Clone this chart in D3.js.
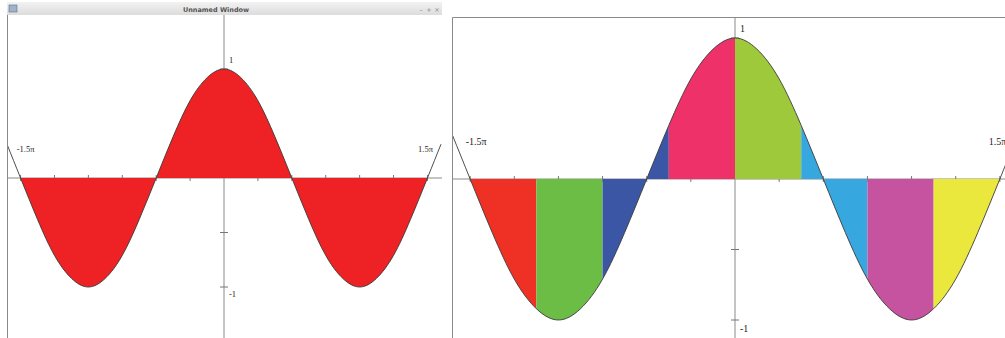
<!DOCTYPE html>
<html>
<head>
<meta charset="utf-8">
<script src="https://cdn.jsdelivr.net/npm/d3@7"></script>
<style>
  html, body { margin: 0; padding: 0; background: #fff; overflow: hidden; }
  svg { display: block; }
</style>
</head>
<body>
<div id="chart"></div>
<script>
// x positions in units of pi, cos values
const xPi = [-1.6, -1.5, -1.375, -1.25, -1.125, -1, -0.875, -0.75, -0.625, -0.5, -0.375, -0.25, -0.125,
             0, 0.125, 0.25, 0.375, 0.5, 0.625, 0.75, 0.875, 1, 1.125, 1.25, 1.375, 1.5, 1.6];
const yVals = [0.31, 0, -0.38, -0.71, -0.92, -1, -0.92, -0.71, -0.38, 0, 0.38, 0.71, 0.92,
               1, 0.92, 0.71, 0.38, 0, -0.38, -0.71, -0.92, -1, -0.92, -0.71, -0.38, 0, 0.31];

// colour bands of the right plot (edges in units of pi)
const bandEdges = [-1.5, -1.125, -0.75, -0.375, 0, 0.375, 0.75, 1.125, 1.5];
const bandColors = ["#ee3124", "#6cbd45", "#3a56a5", "#ee3169", "#9dc93b", "#37a8df", "#c653a0", "#ebe83d"];
const singleColor = "#ee2225";

const xTicksPi = [-1.5, -1.25, -1, -0.75, -0.5, -0.25, 0.25, 0.5, 0.75, 1, 1.25, 1.5];
const yTicks = [-1, -0.5, 0.5, 1];
const xLabels = [{ v: -1.5, t: "-1.5\u03c0" }, { v: 1.5, t: "1.5\u03c0" }];
const yLabels = [{ v: 1, t: "1" }, { v: -1, t: "-1" }];

const points = xPi.map((p, i) => ({ x: p * Math.PI, y: yVals[i] }));

const W = 1005, H = 338;
const svg = d3.select("#chart").append("svg").attr("width", W).attr("height", H);

function drawPlot(cfg) {
    const x = d3.scaleLinear().domain([-1.6 * Math.PI, 1.6 * Math.PI]).range([cfg.left, cfg.right]);
    const y = d3.scaleLinear().domain([-1, 1]).range([cfg.y0 + cfg.unit, cfg.y0 - cfg.unit]);

    const clipId = "clip-" + cfg.id;
    svg.append("clipPath").attr("id", clipId)
        .append("rect")
        .attr("x", cfg.clip[0]).attr("y", cfg.clip[1])
        .attr("width", cfg.clip[2] - cfg.clip[0]).attr("height", cfg.clip[3] - cfg.clip[1]);

    const g = svg.append("g").attr("clip-path", `url(#${clipId})`);

    // axes
    g.append("line")
        .attr("x1", cfg.clip[0]).attr("x2", cfg.clip[2])
        .attr("y1", y(0)).attr("y2", y(0))
        .attr("stroke", "#8a8a8a").attr("stroke-width", 1);
    g.append("line")
        .attr("x1", x(0)).attr("x2", x(0))
        .attr("y1", cfg.clip[1]).attr("y2", cfg.clip[3])
        .attr("stroke", "#8a8a8a").attr("stroke-width", 1);

    g.selectAll(".xtick").data(xTicksPi).enter().append("line")
        .attr("x1", d => x(d * Math.PI)).attr("x2", d => x(d * Math.PI))
        .attr("y1", y(0) - 3).attr("y2", y(0) + 3)
        .attr("stroke", "#777");
    g.selectAll(".ytick").data(yTicks).enter().append("line")
        .attr("x1", x(0) - 4).attr("x2", x(0) + 4)
        .attr("y1", d => y(d)).attr("y2", d => y(d))
        .attr("stroke", "#777");

    const area = d3.area()
        .x(d => x(d.x))
        .y0(y(0))
        .y1(d => y(d.y))
        .curve(d3.curveNatural);

    // filled bands, each clipped to its slice of x
    cfg.colors.forEach((c, i) => {
        const a = cfg.edges[i], b = cfg.edges[i + 1];
        const bid = `band-${cfg.id}-${i}`;
        svg.append("clipPath").attr("id", bid)
            .append("rect")
            .attr("x", x(a * Math.PI)).attr("y", 0)
            .attr("width", x(b * Math.PI) - x(a * Math.PI)).attr("height", H);
        g.append("g").attr("clip-path", `url(#${bid})`)
            .append("path")
            .datum(points)
            .attr("d", area)
            .attr("fill", c);
    });

    const line = d3.line()
        .x(d => x(d.x))
        .y(d => y(d.y))
        .curve(d3.curveNatural);

    g.append("path")
        .datum(points)
        .attr("d", line)
        .attr("fill", "none")
        .attr("stroke", "#3a3a3a")
        .attr("stroke-width", 0.9);

    // labels
    g.selectAll(".xlab").data(xLabels).enter().append("text")
        .attr("x", d => x(d.v * Math.PI) + (d.v < 0 ? -cfg.fs * 0.45 : -cfg.fs * 1.1))
        .attr("y", y(0) - cfg.unit * 0.24)
        .attr("font-family", "'Liberation Serif', 'DejaVu Serif', serif")
        .attr("font-size", cfg.fs)
        .attr("fill", "#222")
        .text(d => d.t);
    g.selectAll(".ylab").data(yLabels).enter().append("text")
        .attr("x", x(0) + 5)
        .attr("y", d => d.v > 0 ? y(d.v) - cfg.fs * 0.65 : y(d.v) + cfg.fs * 1.2)
        .attr("font-family", "'Liberation Serif', 'DejaVu Serif', serif")
        .attr("font-size", cfg.fs)
        .attr("fill", "#222")
        .text(d => d.t);
}

// left window frame
const win = svg.append("g");
const grad = svg.append("defs").append("linearGradient")
    .attr("id", "titleGrad").attr("x1", 0).attr("x2", 0).attr("y1", 0).attr("y2", 1);
grad.append("stop").attr("offset", 0).attr("stop-color", "#f2f2f2");
grad.append("stop").attr("offset", 1).attr("stop-color", "#dcdcdc");
win.append("rect").attr("x", 7).attr("y", 2).attr("width", 435).attr("height", 13).attr("fill", "url(#titleGrad)");
win.append("rect").attr("x", 9).attr("y", 5).attr("width", 8).attr("height", 7)
    .attr("fill", "#9fb3c8").attr("stroke", "#5a6f86").attr("stroke-width", 0.6);
win.append("text").attr("x", 216).attr("y", 12).attr("text-anchor", "middle")
    .attr("font-family", "'DejaVu Sans', sans-serif").attr("font-size", 6.5).attr("font-weight", "bold")
    .attr("fill", "#555").text("Unnamed Window");
win.selectAll(".btn").data(["\u2013", "+", "\u00d7"]).enter().append("text")
    .attr("x", (d, i) => 421 + i * 8).attr("y", 12).attr("text-anchor", "middle")
    .attr("font-family", "'DejaVu Sans', sans-serif").attr("font-size", 6.5)
    .attr("fill", "#888").text(d => d);
win.append("line").attr("x1", 7.5).attr("x2", 7.5).attr("y1", 15).attr("y2", H)
    .attr("stroke", "#8a8a8a");

drawPlot({
    id: "left", left: 7, right: 441, y0: 178, unit: 109, fs: 8.5,
    clip: [8, 15, 442, H],
    edges: [-1.5, 1.5], colors: [singleColor]
});

// right frame
svg.append("line").attr("x1", 452.5).attr("x2", W).attr("y1", 17.5).attr("y2", 17.5).attr("stroke", "#8a8a8a");
svg.append("line").attr("x1", 452.5).attr("x2", 452.5).attr("y1", 17.5).attr("y2", H).attr("stroke", "#8a8a8a");

drawPlot({
    id: "right", left: 452.5, right: 1017.5, y0: 179, unit: 141, fs: 10,
    clip: [453, 18, W, H],
    edges: bandEdges, colors: bandColors
});
</script>
</body>
</html>
